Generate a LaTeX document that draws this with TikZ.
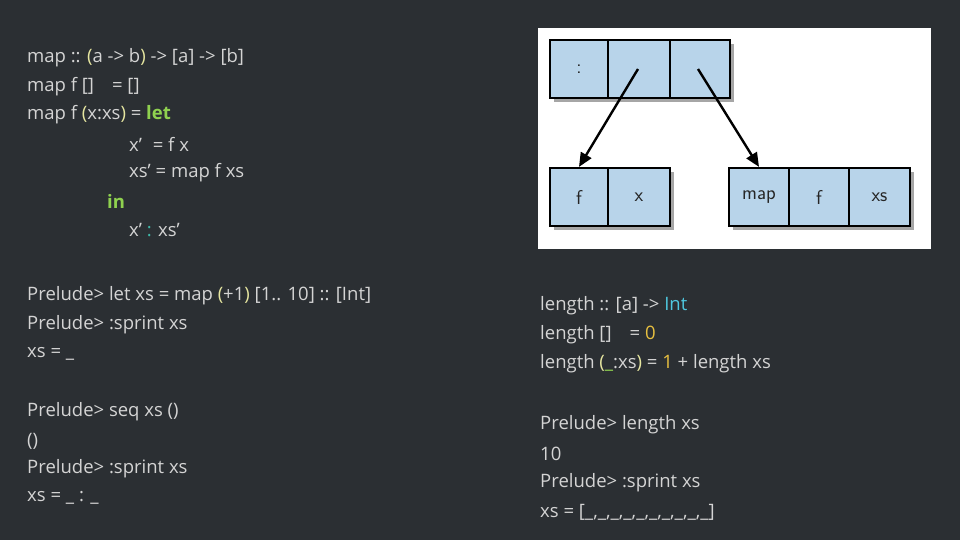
\documentclass[tikz,border=0pt]{standalone}
\usepackage{fontspec}
\setmainfont{Open Sans}
\usetikzlibrary{arrows.meta}
\definecolor{bg}{HTML}{2B2F33}
\definecolor{txt}{HTML}{D4D4D4}
\definecolor{kw}{HTML}{8FD14F}
\definecolor{par}{HTML}{E6E6A0}
\definecolor{tl}{HTML}{3FB8A8}
\definecolor{cy}{HTML}{4FC8E0}
\definecolor{num}{HTML}{E8C040}
\definecolor{cell}{HTML}{B8D4EA}
\begin{document}
\begin{tikzpicture}[x=1pt,y=-1pt,
  ln/.style={anchor=west,inner sep=0pt,text=txt,font=\fontsize{18.5}{20}\selectfont},
  cellbox/.style={draw=black,line width=2.2pt,fill=cell,minimum height=58pt,inner sep=0pt,font=\fontsize{20}{22}\selectfont\sffamily,text=black!85},
  arr/.style={-{Triangle[length=14pt,width=12pt]},line width=2.4pt}]
\fill[bg] (0,0) rectangle (960,540);
\useasboundingbox (0,0) rectangle (960,540);
% left code
\node[ln] (l1) at (27,58) {map :: \textcolor{par}{(}a -> b\textcolor{par}{)} -> [a] -> [b]};
\node[ln] (l2) at (27,87) {map f []\hspace{18pt}= []};
\node[ln] (l3) at (27,115) {map f \textcolor{par}{(}x:xs\textcolor{par}{)} = \textcolor{kw}{\bfseries let}};
\node[ln] (l4) at (129,144) {x'\hspace{6pt} = f x};
\node[ln] (l5) at (129,173) {xs' = map f xs};
\node[ln] (l6) at (107,201) {\textcolor{kw}{\bfseries in}};
\node[ln] (l7) at (129,230) {x' \textcolor{tl}{:} xs'};
\node[ln] (m1) at (27,296) {Prelude> let xs = map \textcolor{par}{(}+1\textcolor{par}{)} [1.. 10] :: [Int]};
\node[ln] (m2) at (27,325) {Prelude> :sprint xs};
\node[ln] (m3) at (27,354) {xs = \_};
\node[ln] (n1) at (27,412) {Prelude> seq xs ()};
\node[ln] (n2) at (27,441) {()};
\node[ln] (n3) at (27,469) {Prelude> :sprint xs};
\node[ln] (n4) at (27,498) {xs = \_ : \_};
% right code
\node[ln] (r1) at (540,306) {length :: [a] -> \textcolor{cy}{Int}};
\node[ln] (r2) at (540,335) {length []\hspace{18pt}= \textcolor{num}{0}};
\node[ln] (r3) at (540,364) {length \textcolor{par}{(}\textcolor{kw}{\_}:xs\textcolor{par}{)} = \textcolor{num}{1} + length xs};
\node[ln] (s1) at (540,425) {Prelude> length xs};
\node[ln] (s2) at (540,454) {10};
\node[ln] (s3) at (540,483) {Prelude> :sprint xs};
\node[ln] (s4) at (540,512) {xs = [\_,\_,\_,\_,\_,\_,\_,\_,\_,\_]};
% picture
\fill[white] (538,28) rectangle (931,249);
\begin{scope}
\foreach \x/\w/\y in {550/180/40,550/120/168,729/181/168}
  \fill[black!35] (\x+4,\y+4) rectangle (\x+\w+4,\y+62);
\end{scope}
\node[cellbox,minimum width=58pt] (c1) at (579,69) {:};
\node[cellbox,minimum width=62pt] (c2) at (639,69) {};
\node[cellbox,minimum width=60pt] (c3) at (700,69) {};
\node[cellbox,minimum width=58pt] (f1) at (579,197) {f};
\node[cellbox,minimum width=62pt] (f2) at (639,197) {x};
\node[cellbox,minimum width=60pt] (g1) at (759,197) {map};
\node[cellbox,minimum width=60pt] (g2) at (819,197) {f};
\node[cellbox,minimum width=61pt] (g3) at (879.5,197) {xs};
\coordinate (p1) at (638,69);
\coordinate (p2) at (698,69);
\draw[arr] (p1) -- (f1.north);
\draw[arr] (p2) -- (g1.north);
\end{tikzpicture}
\end{document}
